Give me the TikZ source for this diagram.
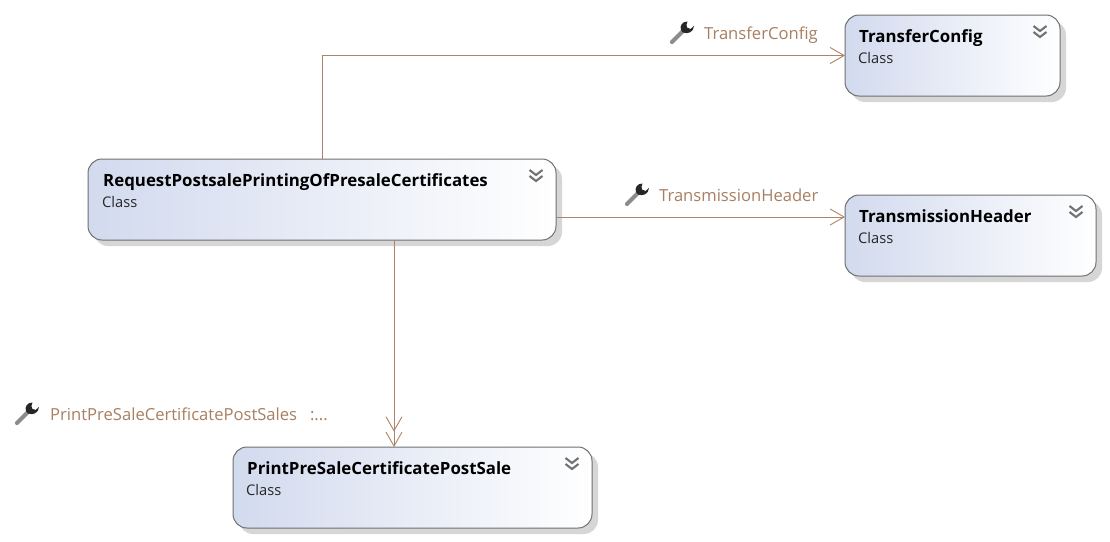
\documentclass[tikz,border=0pt]{standalone}
\usepackage{fontspec}
\setmainfont{Open Sans}
\usetikzlibrary{arrows.meta}
\definecolor{wirecol}{HTML}{AE8468}
\definecolor{lbl}{HTML}{A87F60}
\definecolor{edgecol}{HTML}{707070}
\definecolor{shade}{HTML}{D2DAEE}
\definecolor{shad}{HTML}{D6D6D6}
\tikzset{
  x=1pt,y=-1pt,
  classbox/.style={draw=edgecol,line width=1pt,rounded corners=14pt,left color=shade,right color=white,middle color=shade!50!white,anchor=north west,inner sep=0,outer sep=0},
  shadowbox/.style={fill=shad,rounded corners=14pt},
  title/.style={anchor=base west,inner sep=0,font=\fontsize{16.85}{18}\selectfont\bfseries,text=black},
  sub/.style={anchor=base west,inner sep=0,font=\fontsize{14.7}{16}\selectfont,text=black!85},
  lab/.style={anchor=base west,inner sep=0,font=\fontsize{16.6}{18}\selectfont,text=lbl},
  wire/.style={color=wirecol,line width=1pt},
  one/.style={wire,-{Straight Barb[length=14pt,width=16pt,line width=0.9pt]}},
  two/.style={wire,-{Straight Barb[length=14pt,width=16pt,line width=0.9pt]Straight Barb[length=14pt,width=16pt,line width=0.9pt]}},
  chev/.pic={\draw[black!55,line width=2.1pt] (-6.5,-6)--(0,-1)--(6.5,-6) (-6.5,0)--(0,5)--(6.5,0);},
  wrench/.pic={
    \draw[black!45,line width=4.2pt,line cap=round] (-9,9)--(2,-2);
    \fill[black!85] (6.5,-11.5) .. controls (1,-11.5) and (-1.5,-7) .. (0,-3) -- (2,-0.5) .. controls (7,1.5) and (12.5,-1) .. (13,-7) -- (9.5,-4) -- (6,-5.5) -- (5.5,-8.5) -- cycle;
  },
}
\begin{document}
\begin{tikzpicture}
\useasboundingbox (0,0) rectangle (1110,541);
\fill[white] (0,0) rectangle (1110,541);
\fill[shadowbox] (94,165) rectangle (562,246);
\fill[shadowbox] (851,21) rectangle (1066,102);
\fill[shadowbox] (851,201) rectangle (1102,282);
\fill[shadowbox] (239,453) rectangle (598,534);
\node[classbox,minimum width=468pt,minimum height=81pt] (A) at (88,159) {};
\node[classbox,minimum width=215pt,minimum height=81pt] (T) at (845,15) {};
\node[classbox,minimum width=251pt,minimum height=81pt] (H) at (845,195) {};
\node[classbox,minimum width=359pt,minimum height=81pt] (P) at (233,447) {};
\node[title] (at) at (103,186) {RequestPostsalePrintingOfPresaleCertificates};
\node[sub] (as) at (102,207.5) {Class};
\node[title] (tt) at (859,42) {TransferConfig};
\node[sub] (ts) at (858,63.5) {Class};
\node[title] (ht) at (859,222) {TransmissionHeader};
\node[sub] (hs) at (858,243.5) {Class};
\node[title] (pt) at (247,474) {PrintPreSaleCertificatePostSale};
\node[sub] (ps) at (246,495.5) {Class};
\pic at (536,176) {chev};
\pic at (1040,32) {chev};
\pic at (1076,212) {chev};
\pic at (572,464) {chev};
\coordinate (c1) at (322.5,55);
\coordinate (c2) at (700,217);
\coordinate (c3) at (394,300);
\draw[one] (A.north -| c1) |- (T.west);
\draw[one] (A.east |- c2) -- (H.west |- c2);
\draw[two] (A.south -| c3) -- (P.north -| c3);
\node[lab] (l1) at (704,39) {TransferConfig};
\node[lab] (l2) at (659,201) {TransmissionHeader};
\node[lab] (l3) at (50,420) {PrintPreSaleCertificatePostSales\ \ \ :...};
\pic at (681,33) {wrench};
\pic at (636,195) {wrench};
\pic at (26,414) {wrench};
\end{tikzpicture}
\end{document}
